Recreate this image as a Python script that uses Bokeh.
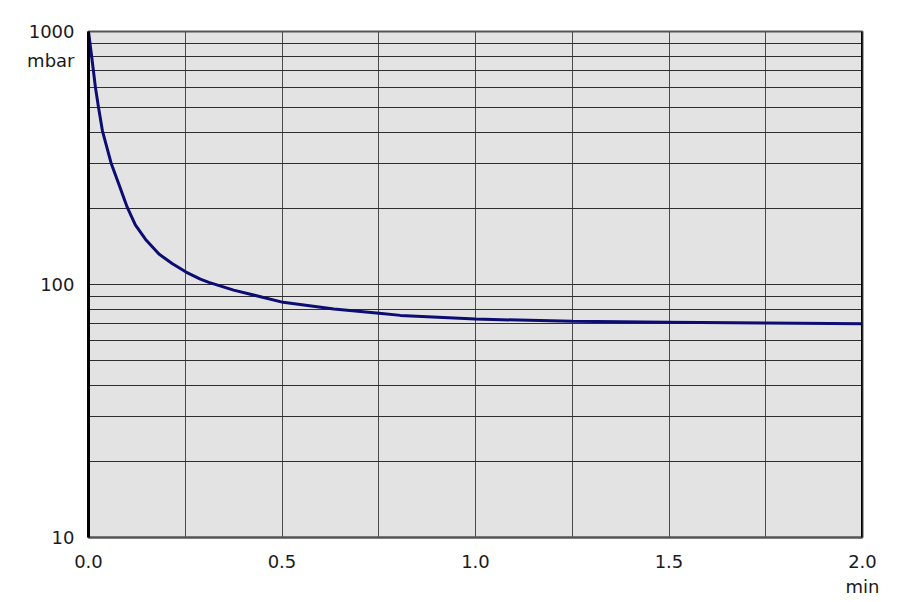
from bokeh.plotting import figure
from bokeh.models import FixedTicker, NumeralTickFormatter, Span, Range1d
from bokeh.embed import file_html
from bokeh.resources import INLINE

# time in minutes, pressure in mbar
time_min = [0.0, 0.008, 0.018, 0.026, 0.036, 0.059, 0.078, 0.100, 0.121, 0.147,
            0.182, 0.216, 0.252, 0.289, 0.311, 0.375, 0.503, 0.634, 0.751, 0.806,
            1.0, 1.25, 1.5, 1.75, 2.0]
pressure_mbar = [1000, 800, 600, 500, 405, 300, 250, 202, 172, 151,
                 132, 121, 112, 105, 102, 95, 85, 80, 77, 75.5,
                 73, 71.5, 71, 70.5, 70]

x_major = [0.0, 0.5, 1.0, 1.5, 2.0]
x_grid = [0.25, 0.5, 0.75, 1.0, 1.25, 1.5, 1.75]
y_major = [10, 100, 1000]
y_grid = [20, 30, 40, 50, 60, 70, 80, 90, 100, 200, 300, 400, 500, 600, 700, 800, 900]
y_unit = "mbar"
x_unit = "min"
y_unit_pos = 770

FONT = "DejaVu Sans"

p = figure(width=892, height=599, y_axis_type="log",
           x_range=Range1d(0, 2.0), y_range=Range1d(10, 1000),
           output_backend="svg", toolbar_location=None,
           min_border_left=88, min_border_right=30,
           min_border_top=31, min_border_bottom=62)

p.background_fill_color = "#e3e3e3"
p.border_fill_color = "white"
p.outline_line_color = "#555555"
p.outline_line_width = 2

# axes
p.xaxis.ticker = FixedTicker(ticks=x_major)
p.xaxis.formatter = NumeralTickFormatter(format="0.0")
p.xaxis.major_label_overrides = {2.0: "2.0\n" + x_unit}
p.yaxis.ticker = FixedTicker(ticks=y_major + [y_unit_pos])
p.yaxis.formatter = NumeralTickFormatter(format="0")
p.yaxis.major_label_overrides = {y_unit_pos: y_unit}
for ax in (p.xaxis, p.yaxis):
    ax.major_tick_line_color = None
    ax.minor_tick_line_color = None
    ax.major_label_text_font = FONT
    ax.major_label_text_font_size = "18px"
    ax.major_label_text_color = "#1a1a1a"
p.xaxis.axis_line_color = "#555555"
p.xaxis.axis_line_width = 2
p.xaxis.major_label_standoff = 7
p.yaxis.axis_line_color = "black"
p.yaxis.axis_line_width = 3
p.yaxis.major_label_standoff = 8

# grids
p.xgrid.ticker = FixedTicker(ticks=x_grid)
p.xgrid.grid_line_color = "#4a4a4a"
p.xgrid.grid_line_width = 1
p.ygrid.ticker = FixedTicker(ticks=y_grid)
p.ygrid.grid_line_color = "#2e2e2e"
p.ygrid.grid_line_width = 1

# right border thick black
p.add_layout(Span(location=2.0, dimension="height", line_color="black", line_width=3))

# curve
p.line(time_min, pressure_mbar, line_color="#0c0c72", line_width=3)

open("out.html", "w").write(file_html(p, INLINE))
